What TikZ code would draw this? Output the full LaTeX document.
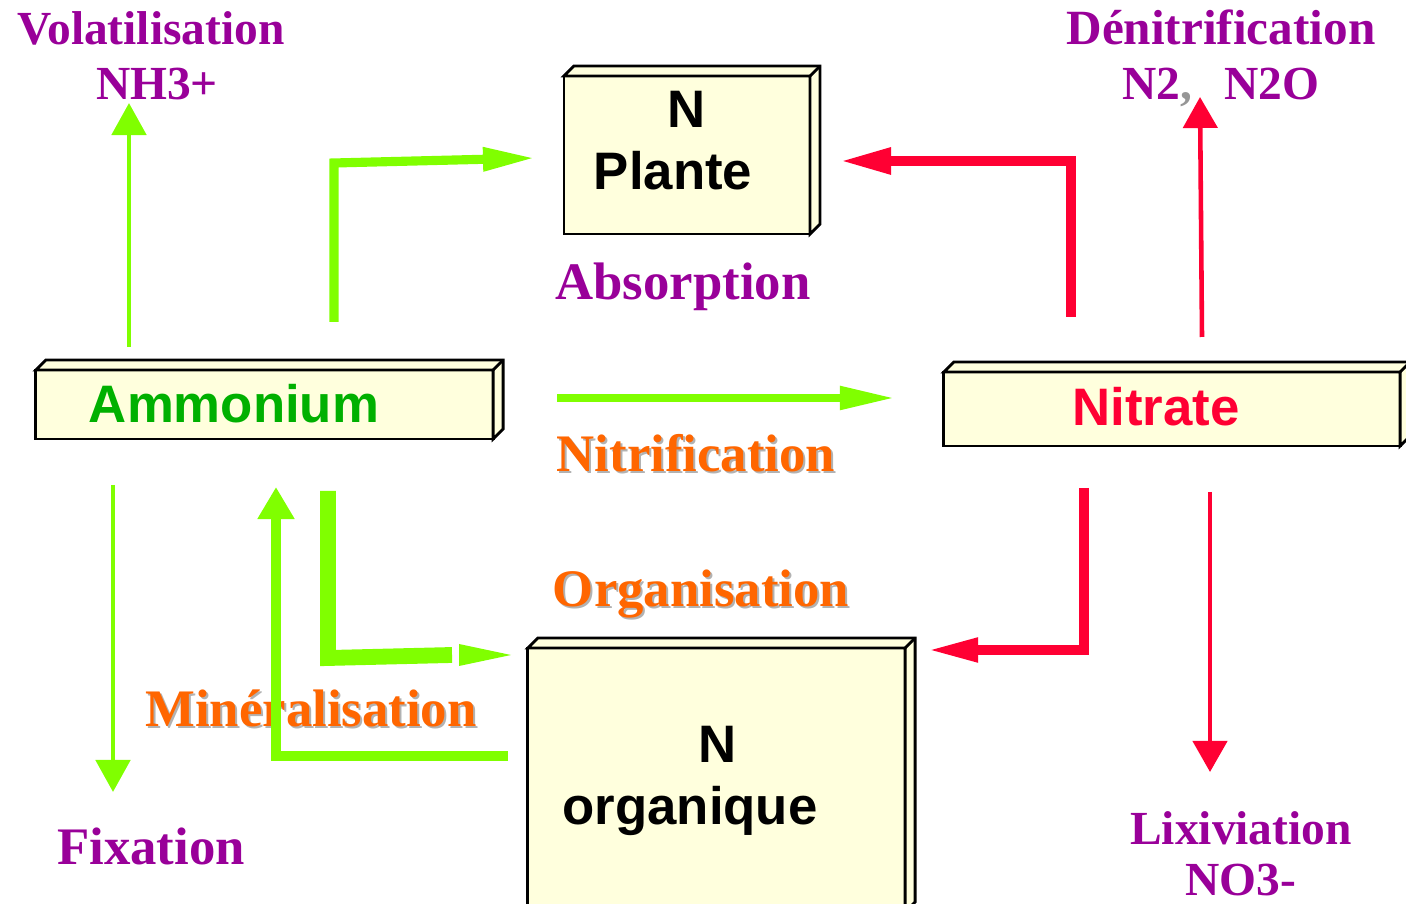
\documentclass[tikz,border=0pt]{standalone}
\usepackage{fontspec}
\setmainfont{Liberation Serif}
\setsansfont{Liberation Sans}
\usetikzlibrary{arrows.meta}

\definecolor{boxfill}{RGB}{255,255,221}
\definecolor{labpurple}{RGB}{153,0,153}
\definecolor{laborange}{RGB}{255,102,0}
\definecolor{shadowgray}{RGB}{178,178,178}
\definecolor{commagray}{RGB}{150,150,150}
\definecolor{arrgreen}{RGB}{128,255,0}
\definecolor{arrred}{RGB}{255,0,51}
\definecolor{amgreen}{RGB}{0,176,0}

% top and right faces of a box node
\newcommand\depthfaces[1]{%
  \draw[face] (#1.north west) -- ([shift={(10,-10)}]#1.north west)
    -- ([shift={(10,-10)}]#1.north east) -- ([shift={(10,-10)}]#1.south east)
    -- (#1.south east) -- (#1.north east) -- cycle;
  \draw[face] (#1.north east) -- ([shift={(10,-10)}]#1.north east);}

\begin{document}
\begin{tikzpicture}
  [x=0.01cm,y=-0.01cm,line join=miter,
   box/.style={draw,line width=0.8pt,fill=boxfill,outer sep=0pt,inner sep=0pt},
   face/.style={draw,line width=0.8pt,fill=boxfill},
   boxtxt/.style={font=\sffamily\bfseries\fontsize{15}{18}\selectfont,anchor=base,inner sep=0pt},
   smalllab/.style={font=\bfseries\fontsize{13.5}{16}\selectfont,text=labpurple,anchor=base,inner sep=0pt},
   biglab/.style={font=\bfseries\fontsize{15}{18}\selectfont,text=labpurple,anchor=base,inner sep=0pt},
   orlab/.style={font=\bfseries\fontsize{15}{18}\selectfont,text=laborange,anchor=base,inner sep=0pt},
   orshadow/.style={orlab,text=shadowgray},
   gthin/.style={draw=arrgreen,line width=1.4pt,-{Triangle[length=3.2mm,width=3.4mm]}},
   rthin/.style={draw=arrred,line width=1.3pt,-{Triangle[length=3.1mm,width=3.4mm]}},
   gthick/.style={draw=arrgreen,line width=2.7pt},
   rthick/.style={draw=arrred,line width=3.1pt}]
  \useasboundingbox (0,0) rectangle (1406,904);

  % boxes
  \node[box,minimum width=2.46cm,minimum height=1.58cm] (pl) at (687,155) {};
  \node[box,minimum width=4.57cm,minimum height=0.69cm] (am) at (264.5,404.5) {};
  \node[box,minimum width=4.56cm,minimum height=0.74cm] (ni) at (1172,409) {};
  \node[box,minimum width=3.77cm,minimum height=2.64cm] (org) at (716.5,780) {};
  \foreach \b in {pl,am,ni,org}
    {\depthfaces{\b}}

  \node[boxtxt] (plN) at (687,128) {N};
  \node[boxtxt] (plT) at (673,190) {Plante};
  \node[boxtxt,text=amgreen] (amT) at (234,423) {Ammonium};
  \node[boxtxt,text=arrred] (niT) at (1156,426) {Nitrate};
  \node[boxtxt] (orgN) at (718,763) {N};
  \node[boxtxt] (orgT) at (690,825) {organique};

  % labels
  \node[smalllab] (vol) at (151,45) {Volatilisation};
  \node[smalllab] (nh3) at (157,100) {NH3+};
  \node[smalllab,font=\bfseries\fontsize{14}{17}\selectfont] (deni) at (1221,45) {Dénitrification};
  \node[smalllab] (n2) at (1221,100) {N2{\color{commagray},}\hspace{0.32cm}N2O};
  \node[biglab] (abs) at (683,300) {Absorption};
  \node[biglab] (fix) at (151,865) {Fixation};
  \node[smalllab] (lix) at (1241,845) {Lixiviation};
  \node[smalllab] (no3) at (1241,896) {NO3-};
  \foreach \nm/\x/\y/\txt in {nitri/696/472/Nitrification,orga/701/607/Organisation,mine/311/727/Minéralisation}
  {
    \node[orshadow] at (\x+2,\y+2) {\txt};
    \node[orlab] (\nm) at (\x,\y) {\txt};
  }

  % ends of the connectors
  \coordinate (volS) at (129,347);   \coordinate (volE) at (129,103);
  \coordinate (fixS) at (113,485);   \coordinate (fixE) at (113,792);
  \coordinate (denS) at (1202,337);  \coordinate (denE) at (1200,97);
  \coordinate (lixS) at (1210,492);  \coordinate (lixE) at (1210,772);
  \coordinate (apS) at (334,322);    \coordinate (apE) at (536,158);
  \coordinate (npS) at (1071,317);   \coordinate (npE) at (838,161);
  \coordinate (anS) at (557,398);    \coordinate (anE) at (895,398);
  \coordinate (noS) at (1084,488);   \coordinate (noE) at (926,650);
  \coordinate (aoS) at (328,491);    \coordinate (aoE) at (452,655);
  \coordinate (oaS) at (508,756);    \coordinate (oaE) at (276,487);

  % arrows
  \draw[gthin] (volS) -- (volE);
  \draw[gthin] (fixS) -- (fixE);
  \draw[rthin] (denS) -- (denE);
  \draw[rthin] (lixS) -- (lixE);

  \draw[gthick,line width=2.6pt,-{Triangle[length=5.3mm,width=2.2mm]}]
    (apS) -- (334,163) -- (apE);
  \draw[rthick,-{Triangle[length=5.3mm,width=2.4mm]}]
    (npS) -- (npS |- npE) -- (npE);
  \draw[gthick,line width=2.3pt,-{Triangle[length=5.5mm,width=2.2mm]}]
    (anS) -- (anE);
  \draw[rthick,line width=2.9pt,-{Triangle[length=5.2mm,width=2.2mm]}]
    (noS) -- (noS |- noE) -- (noE);
  \draw[gthick,line width=4.5pt] (aoS) -- (328,658) -- (aoE);
  \fill[arrgreen] (459,644) -- (511,655) -- (459,666) -- cycle;
  \draw[gthick,line width=3pt,-{Triangle[length=3.2mm,width=3.5mm]}]
    (oaS) -- (oaS -| oaE) -- (oaE);
\end{tikzpicture}
\end{document}
